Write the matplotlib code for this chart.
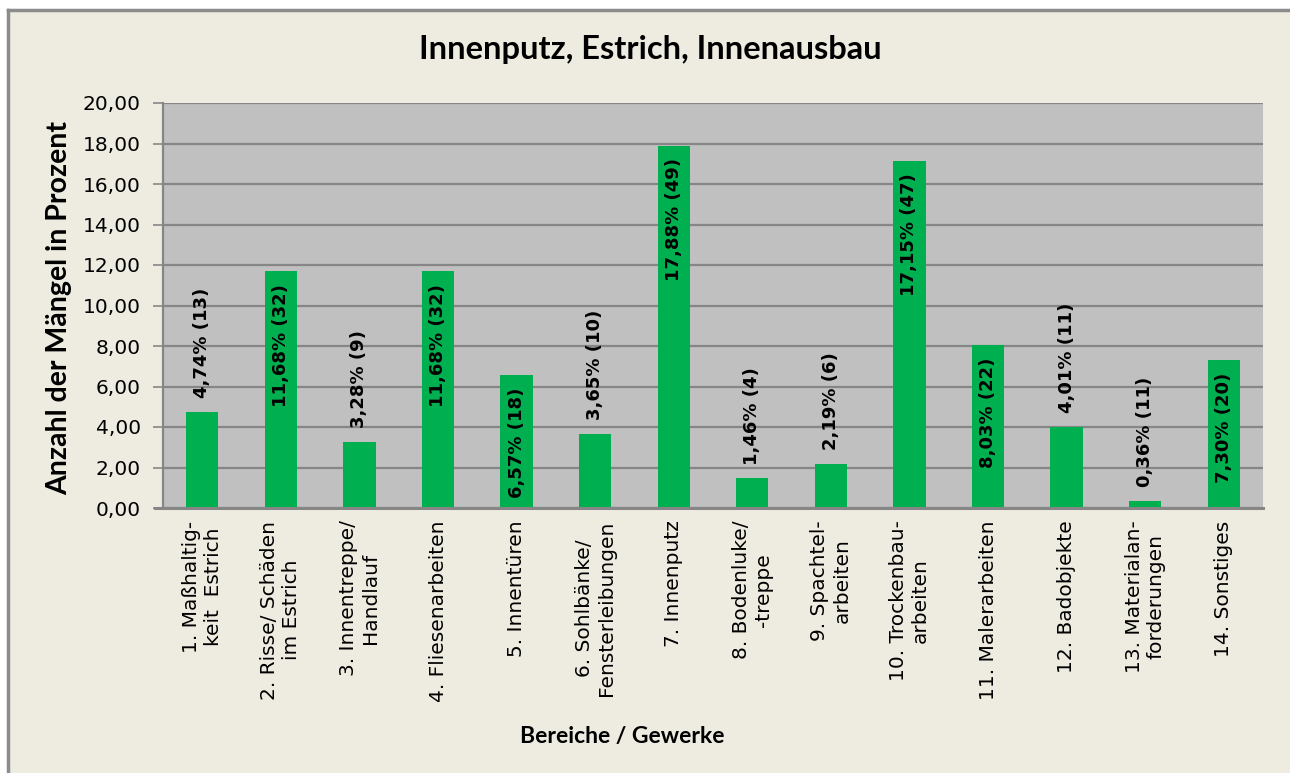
import matplotlib
matplotlib.use("Agg")
import matplotlib.pyplot as plt
from matplotlib.patches import Rectangle
from matplotlib.lines import Line2D

plt.rcParams['font.family'] = ['DejaVu Sans']

categories = [
    "1. Maßhaltig-\nkeit  Estrich",
    "2. Risse/ Schäden\nim Estrich",
    "3. Innentreppe/\nHandlauf",
    "4. Fliesenarbeiten",
    "5. Innentüren",
    "6. Sohlbänke/\nFensterleibungen",
    "7. Innenputz",
    "8. Bodenluke/\n-treppe",
    "9. Spachtel-\narbeiten",
    "10. Trockenbau-\narbeiten",
    "11. Malerarbeiten",
    "12. Badobjekte",
    "13. Materialan-\nforderungen",
    "14. Sonstiges",
]
percent = [4.74, 11.68, 3.28, 11.68, 6.57, 3.65, 17.88, 1.46, 2.19, 17.15, 8.03, 4.01, 0.36, 7.30]
counts = [13, 32, 9, 32, 18, 10, 49, 4, 6, 47, 22, 11, 11, 20]
yticks = [0, 2, 4, 6, 8, 10, 12, 14, 16, 18, 20]

W, H = 1290, 773
fig = plt.figure(figsize=(W / 100, H / 100), dpi=100, facecolor='white')
fig.patches.append(Rectangle((8 / W, 0), 1 - 8 / W, 1 - 10 / H, transform=fig.transFigure,
                             facecolor='#EEECE1', edgecolor='none', zorder=-10))
fig.lines.append(Line2D([8 / W, 8 / W], [0, 1 - 10 / H], transform=fig.transFigure,
                        color='#8C8C8C', lw=2.5, zorder=-5))
fig.lines.append(Line2D([8 / W, 1], [1 - 10 / H, 1 - 10 / H], transform=fig.transFigure,
                        color='#8C8C8C', lw=2.5, zorder=-5))

left, right, top, bottom = 163, 1263, 103, 508
ax = fig.add_axes([left / W, 1 - bottom / H, (right - left) / W, (bottom - top) / H])
ax.set_zorder(1)
ax.set_facecolor('#C0C0C0')

x = list(range(len(categories)))
xc = [i + 0.5 for i in x]
ax.bar(xc, percent, width=0.41, color='#00B050', zorder=3)
ax.set_xlim(0, len(categories))
ax.set_ylim(0, 20)
ax.set_yticks(yticks)
ax.set_yticklabels([f"{v:.2f}".replace('.', ',') for v in yticks], fontsize=14.5, color='black')
ax.yaxis.grid(True, color='#868686', lw=1.6, zorder=1)
ax.set_axisbelow(True)
ax.tick_params(axis='y', length=7, width=1.2, color='#868686', pad=9)
ax.set_xticks(xc)
ax.set_xticklabels(categories, rotation=90, ha='center', va='top', multialignment='center',
                   fontsize=14.5, color='black')
ax.tick_params(axis='x', length=0, pad=9)
for s in ['top', 'right']:
    ax.spines[s].set_visible(False)
ax.spines['left'].set_color('#868686')
ax.spines['left'].set_linewidth(1.6)
ax.spines['bottom'].set_visible(False)
ax.add_line(Line2D([-8 / (right - left), 1], [0, 0], transform=ax.transAxes, color='#868686',
                   lw=2.2, clip_on=False, zorder=4))

for xi, p, n in zip(xc, percent, counts):
    label = f"{p:.2f}".replace('.', ',') + f"% ({n})"
    if p > 5:
        ax.annotate(label, (xi, p), xytext=(0, -9), textcoords='offset points', rotation=90,
                    ha='center', va='top', fontsize=13, fontweight='bold', zorder=5)
    else:
        ax.annotate(label, (xi, p), xytext=(0, 10), textcoords='offset points', rotation=90,
                    ha='center', va='bottom', fontsize=13, fontweight='bold', zorder=5)

ax.set_ylabel("Anzahl der Mängel in Prozent", fontsize=20.5, fontweight='bold',
              family=['Lato', 'DejaVu Sans'])
ax.yaxis.label.set_verticalalignment('center')
ax.yaxis.set_label_coords((59 - left) / (right - left), 0.495)
fig.text(650 / W, 1 - 50 / H, "Innenputz, Estrich, Innenausbau", ha='center', va='center',
         fontsize=23.5, fontweight='bold', family=['Lato', 'DejaVu Sans'])
fig.text(622 / W, 1 - 736 / H, "Bereiche / Gewerke", ha='center', va='center',
         fontsize=16.5, fontweight='bold', family=['Lato', 'DejaVu Sans'])

fig.savefig("out.png", dpi=100, facecolor=fig.get_facecolor())
